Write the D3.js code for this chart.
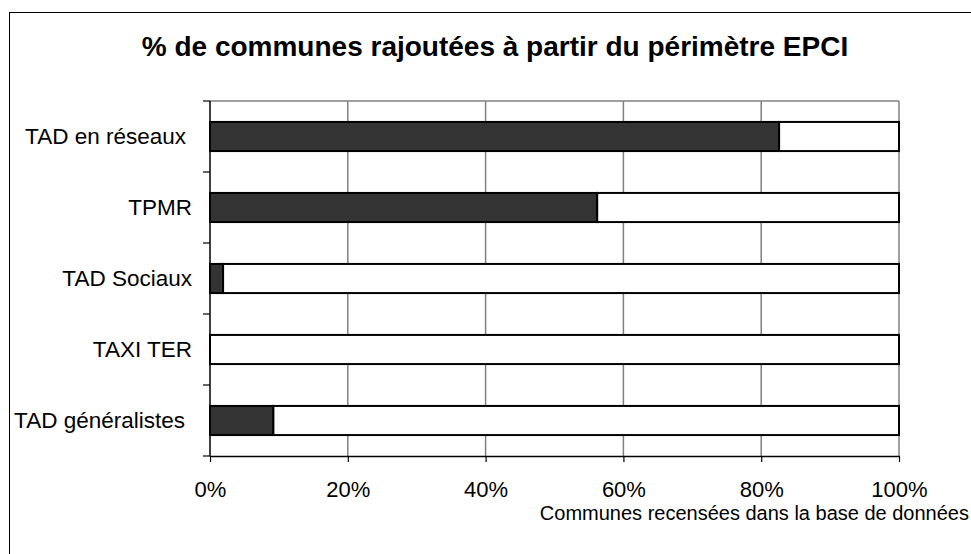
<!DOCTYPE html>
<html><head><meta charset="utf-8">
<script src="https://cdn.jsdelivr.net/npm/d3@7"></script>
<style>body{margin:0;background:#fff}svg{display:block}text{font-family:"Liberation Sans",Arial,sans-serif}</style>
</head><body><svg id="c" width="971" height="554"></svg>
<script>
const categories = ["TAD en réseaux","TPMR","TAD Sociaux","TAXI TER","TAD généralistes"];
const ajoutees = [82.6, 56.2, 1.9, 0, 9.2];
const recensees = [17.4, 43.8, 98.1, 100, 90.8];
const xTicks = [0,20,40,60,80,100];
const title = "% de communes rajoutées à partir du périmètre EPCI";
const xTitle = "Communes recensées dans la base de données";

const svg = d3.select("#c");
svg.append("rect").attr("x",9.5).attr("y",12.5).attr("width",980).attr("height",560)
  .attr("fill","#fff").attr("stroke","#000").attr("stroke-width",1);

const L=210, R=899, T=101, B=456;
const x = d3.scaleLinear().domain([0,100]).range([L,R]);
const y = d3.scaleBand().domain(categories).range([T,B]).paddingInner(0.59).paddingOuter(0.295);
const yb = d3.scaleBand().domain(categories).range([T,B]);

// grid
svg.append("g").selectAll("line").data(xTicks.slice(1,-1)).join("line")
  .attr("x1",d=>x(d)).attr("x2",d=>x(d)).attr("y1",T).attr("y2",B)
  .attr("stroke","#808080").attr("stroke-width",1.5);
svg.append("line").attr("x1",L).attr("x2",R).attr("y1",T).attr("y2",T).attr("stroke","#808080").attr("stroke-width",1.5);
svg.append("line").attr("x1",R).attr("x2",R).attr("y1",T).attr("y2",B).attr("stroke","#808080").attr("stroke-width",1.5);

// bars
const rows = categories.map((c,i)=>({c, a:ajoutees[i], r:recensees[i]}));
const g = svg.append("g");
rows.forEach(d=>{
  if (d.a>0) g.append("rect").attr("x",x(0)).attr("y",y(d.c)).attr("width",x(d.a)-x(0)).attr("height",y.bandwidth())
    .attr("fill","#333333").attr("stroke","#000").attr("stroke-width",2);
  g.append("rect").attr("x",x(d.a)).attr("y",y(d.c)).attr("width",x(d.a+d.r)-x(d.a)).attr("height",y.bandwidth())
    .attr("fill","#fff").attr("stroke","#000").attr("stroke-width",2);
});

// axes
const xa = svg.append("g").attr("transform",`translate(0,${B})`)
  .call(d3.axisBottom(x).tickValues(xTicks).tickFormat(d=>d+"%").tickSize(6).tickSizeOuter(0));
xa.select(".domain").attr("stroke","#000").attr("stroke-width",1.5);
xa.selectAll(".tick line").attr("stroke","#000").attr("stroke-width",1.2);
xa.selectAll(".tick text").attr("font-size",22).attr("fill","#000").attr("y",41).attr("dy",null)
  .attr("font-family","Liberation Sans, Arial, sans-serif");

// left axis: line + ticks at band boundaries
svg.append("line").attr("x1",L).attr("x2",L).attr("y1",T).attr("y2",B).attr("stroke","#000").attr("stroke-width",1.5);
const bounds = categories.map(c=>yb(c)).concat([B]);
svg.append("g").selectAll("line").data(bounds).join("line")
  .attr("x1",L-7).attr("x2",L).attr("y1",d=>d).attr("y2",d=>d).attr("stroke","#000").attr("stroke-width",1.2);
const labelX = {"TAD en réseaux":186,"TAD généralistes":185};
svg.append("g").selectAll("text").data(categories).join("text")
  .attr("x",d=>labelX[d]||192).attr("y",d=>yb(d)+yb.bandwidth()/2).attr("dy","0.35em")
  .attr("text-anchor","end").attr("font-size",22.5).text(d=>d);

svg.append("text").attr("x",495).attr("y",56).attr("text-anchor","middle")
  .attr("font-size",28).attr("font-weight","bold").text(title);
svg.append("text").attr("x",969).attr("y",520).attr("text-anchor","end")
  .attr("font-size",20).text(xTitle);
</script></body></html>
